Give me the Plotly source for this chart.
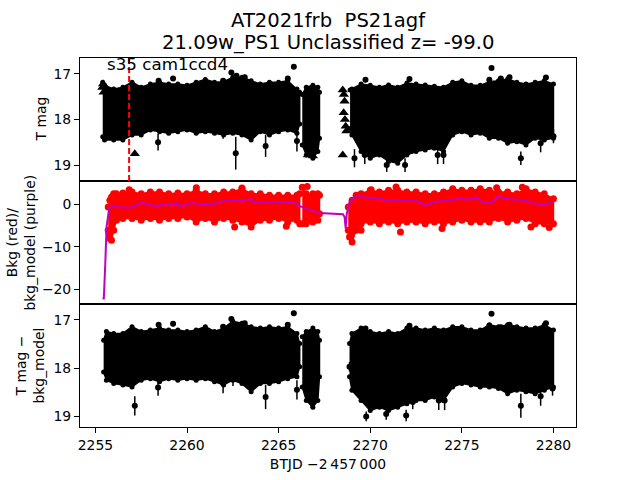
import plotly.graph_objects as go
from plotly.subplots import make_subplots

FONT = "DejaVu Sans"

# ---------------- Top panel: T mag (band envelopes) ----------------
top_a_t = [2255.4, 2255.5, 2256.0, 2256.5, 2257.0, 2257.5, 2258.0, 2258.5, 2259.0, 2259.5,
           2260.0, 2260.5, 2261.0, 2261.5, 2262.0, 2262.5, 2263.0, 2263.5, 2264.0, 2264.5,
           2265.0, 2265.5, 2266.0, 2266.15]
top_a_hi = [17.18, 17.25, 17.33, 17.29, 17.18, 17.29, 17.22, 17.18, 17.22, 17.22,
            17.25, 17.18, 17.12, 17.18, 17.17, 17.07, 17.07, 17.15, 17.22, 17.18,
            17.18, 17.15, 17.33, 17.40]
top_a_lo = [18.38, 18.45, 18.45, 18.45, 18.34, 18.34, 18.23, 18.27, 18.30, 18.27,
            18.23, 18.30, 18.27, 18.30, 18.34, 18.30, 18.34, 18.45, 18.27, 18.34,
            18.27, 18.23, 18.30, 18.10]
top_b_t = [2266.29, 2266.51, 2266.87, 2267.14, 2267.23]
top_b_hi = [17.45, 17.29, 17.25, 17.29, 17.40]
top_b_lo = [18.56, 18.78, 18.85, 18.70, 18.41]
top_c_t = [2268.9, 2269.0, 2269.5, 2270.0, 2270.5, 2271.0, 2271.5, 2272.0, 2272.5, 2273.0,
           2273.5, 2274.0, 2274.5, 2275.0, 2275.5, 2276.0, 2276.5, 2277.0, 2277.5, 2278.0,
           2278.5, 2279.0, 2279.5, 2280.0]
top_c_hi = [17.35, 17.33, 17.22, 17.25, 17.29, 17.24, 17.29, 17.20, 17.22, 17.24,
            17.27, 17.29, 17.18, 17.15, 17.25, 17.25, 17.17, 17.15, 17.11, 17.18,
            17.22, 17.18, 17.15, 17.22]
top_c_lo = [18.20, 18.34, 18.70, 18.85, 18.78, 18.92, 18.96, 18.78, 18.70, 18.67,
            18.63, 18.70, 18.34, 18.27, 18.34, 18.30, 18.41, 18.41, 18.52, 18.49,
            18.56, 18.41, 18.45, 18.41]
top_pts_t = [2258.42, 2262.66, 2264.29, 2266.0, 2262.51, 2261.97, 2258.45, 2259.24, 2261.97, 2262.42,
             2262.7, 2263.15, 2265.5, 2265.83, 2269.74, 2272.14, 2276.62, 2276.5, 2277.13, 2277.6,
             2279.59, 2269.14, 2269.7, 2270.9, 2271.9, 2272.32, 2273.68, 2274.0, 2276.5, 2278.22,
             2279.3, 2280.0]
top_pts_m = [18.50, 18.74, 18.58, 18.47, 18.15, 18.27, 17.15, 17.10, 17.15, 16.97,
             17.04, 17.07, 17.10, 16.84, 17.13, 17.11, 16.87, 17.13, 17.10, 17.07,
             17.08, 18.85, 18.78, 19.00, 19.00, 18.55, 18.78, 18.78, 18.30, 18.85,
             18.52, 18.37]
top_pts_e = [0.18, 0.36, 0.24, 0.23, 0.18, 0.15, 0.05, 0.05, 0.05, 0.05,
             0.05, 0.05, 0.05, 0.04, 0.05, 0.05, 0.04, 0.05, 0.05, 0.05,
             0.05, 0.20, 0.20, 0.15, 0.15, 0.20, 0.20, 0.20, 0.15, 0.15,
             0.20, 0.15]
lim_t = [2255.38, 2255.42, 2255.45, 2257.15, 2266.6, 2266.87, 2268.5, 2268.56, 2268.6, 2268.55,
         2268.62, 2268.66, 2268.7, 2268.5]
lim_m = [17.30, 17.22, 17.40, 18.75, 18.78, 18.80, 17.35, 17.45, 17.60, 17.85,
         18.00, 18.15, 18.25, 18.78]
peak_time = 2256.84
label_text = "s35 cam1ccd4"

# ---------------- Middle panel: background (red) and model (purple) ----------------
bkg_a_t = [2255.7, 2255.79, 2255.88, 2256.0, 2256.15, 2256.5, 2257.0, 2257.5, 2258.0, 2258.5,
           2259.0, 2259.5, 2260.0, 2260.5, 2261.0, 2261.5, 2262.0, 2262.5, 2263.0, 2263.5,
           2264.0, 2264.5, 2265.0, 2265.5, 2266.0, 2266.15]
bkg_a_hi = [-0.63, 0.94, 1.73, 2.51, 2.51, 2.67, 2.90, 2.51, 2.90, 2.90,
            2.51, 2.67, 2.51, 3.29, 2.51, 2.51, 2.90, 2.90, 3.69, 2.51,
            2.51, 2.12, 2.12, 2.12, 2.12, 2.51]
bkg_a_lo = [-6.10, -8.07, -8.47, -6.10, -3.76, -3.37, -3.37, -3.76, -3.37, -3.76,
            -3.37, -3.37, -2.98, -4.16, -3.37, -4.16, -3.37, -3.76, -4.16, -5.33,
            -3.76, -3.76, -3.37, -4.16, -3.76, -4.55]
bkg_b_t = [2266.29, 2266.5, 2266.87, 2267.14, 2267.23]
bkg_b_hi = [4.00, 2.51, 2.51, 2.51, 2.12]
bkg_b_lo = [-4.55, -4.55, -4.16, -3.76, -2.20]
bkg_c_t = [2268.8, 2268.87, 2269.01, 2269.23, 2269.5, 2270.0, 2270.5, 2271.0, 2271.5, 2272.0,
           2272.5, 2273.0, 2273.5, 2274.0, 2274.5, 2275.0, 2275.5, 2276.0, 2276.5, 2277.0,
           2277.5, 2278.0, 2278.5, 2279.0, 2279.5, 2280.0]
bkg_c_hi = [-0.63, -0.63, 0.94, 2.12, 2.51, 3.29, 2.90, 3.29, 3.29, 2.90,
            2.90, 2.51, 2.51, 2.90, 3.69, 3.29, 3.29, 3.69, 3.29, 2.90,
            2.90, 2.51, 3.69, 2.90, 2.51, 1.33]
bkg_c_lo = [-6.10, -7.69, -8.86, -6.12, -4.55, -4.16, -4.55, -4.16, -4.55, -4.16,
            -4.16, -4.55, -4.16, -4.55, -4.16, -3.76, -4.16, -4.16, -4.16, -3.37,
            -4.16, -3.76, -3.37, -4.55, -4.55, -4.55]
bkg_pts_t = [2256.84, 2260.51, 2263.0, 2266.56, 2262.6, 2265.42, 2255.75, 2270.05, 2271.41, 2271.65,
             2273.92, 2279.77, 2278.77, 2269.5, 2276.9, 2278.3]
bkg_pts_v = [3.45, 3.92, 3.84, 4.23, -5.33, -5.18, -6.90, 3.45, 4.08, -6.50,
             -5.72, -5.49, -5.33, -6.10, 3.90, 4.00]
model_t = [2255.39, 2255.46, 2255.54, 2255.61, 2255.75, 2255.88, 2256.15, 2256.52, 2256.88, 2257.24,
           2257.52, 2257.79, 2258.33, 2258.7, 2259.06, 2259.42, 2259.6, 2259.97, 2260.33, 2260.69,
           2261.06, 2261.42, 2261.78, 2262.15, 2262.51, 2262.87, 2263.24, 2263.42, 2263.6, 2263.96,
           2264.33, 2264.69, 2265.05, 2265.42, 2265.78, 2265.96, 2266.14, 2266.32, 2266.69, 2267.05,
           2267.23, 2268.51, 2268.6, 2268.66, 2268.72, 2268.87, 2269.05, 2269.32, 2269.5, 2269.96,
           2270.5, 2270.96, 2271.41, 2271.96, 2272.5, 2272.96, 2273.23, 2273.77, 2274.32, 2274.86,
           2275.41, 2275.77, 2276.13, 2276.68, 2276.95, 2277.41, 2277.95, 2278.5, 2279.04, 2279.4,
           2279.68, 2279.95]
model_v = [-22.2, -22.2, -13.96, -5.33, -1.02, -0.47, -0.63, -0.63, -0.78, -0.24,
           0.55, 0.0, -0.47, 0.0, -0.24, 0.31, -0.47, 0.0, 0.31, 0.0,
           0.16, 0.0, 0.55, 0.94, 0.78, 1.10, 0.94, 1.33, 0.55, 0.31,
           0.55, 0.55, 0.31, 0.55, 0.55, 0.16, -0.47, -0.63, -1.25, -1.80,
           -2.04, -2.35, -2.98, -5.65, -2.20, 0.55, 1.33, 2.12, 1.73, 1.57,
           1.33, 0.94, 1.10, 0.78, 0.94, -0.24, 0.16, 0.78, 0.94, 1.33,
           1.10, 1.73, 0.55, 0.55, 1.88, 1.33, 1.10, 0.78, 0.16, 0.0,
           0.16, 0.55]

# ---------------- Bottom panel: T mag - bkg_model ----------------
sub_a_t = [2255.45, 2255.6, 2256.0, 2256.5, 2257.0, 2257.5, 2258.0, 2258.5, 2259.0, 2259.5,
           2260.0, 2260.5, 2261.0, 2261.5, 2262.0, 2262.5, 2263.0, 2263.5, 2264.0, 2264.5,
           2265.0, 2265.5, 2266.0, 2266.15]
sub_a_hi = [17.42, 17.24, 17.28, 17.28, 17.14, 17.24, 17.21, 17.17, 17.21, 17.21,
            17.24, 17.21, 17.14, 17.24, 17.17, 17.03, 17.07, 17.14, 17.17, 17.14,
            17.17, 17.14, 17.28, 17.49]
sub_a_lo = [18.08, 18.25, 18.32, 18.35, 18.39, 18.25, 18.22, 18.28, 18.22, 18.25,
            18.22, 18.25, 18.22, 18.28, 18.35, 18.25, 18.32, 18.49, 18.32, 18.32,
            18.28, 18.22, 18.18, 17.97]
sub_b_t = [2266.29, 2266.51, 2266.87, 2267.14, 2267.23]
sub_b_hi = [17.35, 17.24, 17.17, 17.24, 17.42]
sub_b_lo = [18.39, 18.67, 18.81, 18.67, 18.18]
sub_c_t = [2268.87, 2269.0, 2269.5, 2270.0, 2270.5, 2271.0, 2271.5, 2272.0, 2272.5, 2273.0,
           2273.5, 2274.0, 2274.5, 2275.0, 2275.5, 2276.0, 2276.5, 2277.0, 2277.5, 2278.0,
           2278.5, 2279.0, 2279.5, 2280.0]
sub_c_hi = [17.49, 17.28, 17.17, 17.24, 17.28, 17.24, 17.28, 17.17, 17.17, 17.21,
            17.17, 17.21, 17.14, 17.14, 17.21, 17.21, 17.10, 17.14, 17.10, 17.14,
            17.17, 17.17, 17.10, 17.21]
sub_c_lo = [18.18, 18.46, 18.67, 18.88, 18.81, 18.88, 18.81, 18.74, 18.67, 18.67,
            18.60, 18.67, 18.39, 18.32, 18.35, 18.39, 18.39, 18.42, 18.53, 18.46,
            18.49, 18.53, 18.46, 18.39]
sub_pts_t = [2257.15, 2258.42, 2261.97, 2262.51, 2264.29, 2266.0, 2266.78, 2258.45, 2259.24, 2261.97,
             2262.42, 2263.15, 2265.5, 2265.83, 2269.78, 2270.87, 2271.96, 2272.32, 2273.74, 2274.06,
             2278.22, 2279.3, 2279.95, 2268.87, 2269.74, 2272.14, 2276.62, 2276.5, 2277.13, 2277.6,
             2279.59]
sub_pts_m = [18.78, 18.40, 18.32, 18.22, 18.60, 18.45, 18.60, 17.10, 17.08, 17.14,
             16.98, 17.07, 17.10, 16.86, 19.00, 18.95, 18.98, 18.70, 18.67, 18.67,
             18.78, 18.58, 18.42, 17.97, 17.18, 17.12, 16.87, 17.12, 17.15, 17.10,
             17.07]
sub_pts_e = [0.20, 0.17, 0.20, 0.15, 0.25, 0.20, 0.22, 0.05, 0.05, 0.05,
             0.05, 0.05, 0.05, 0.04, 0.10, 0.12, 0.12, 0.15, 0.20, 0.20,
             0.25, 0.20, 0.15, 0.10, 0.05, 0.05, 0.04, 0.05, 0.05, 0.05,
             0.05]

x_ticks = [2255, 2260, 2265, 2270, 2275, 2280]
mag_ticks = [17, 18, 19]
bkg_ticks = [0, -10, -20]

title_l1 = "AT2021frb\u00a0\u00a0PS21agf"
title_l2 = "21.09w_PS1 Unclassified z= -99.0"
x_title = "BTJD \u22122\u2009457\u2009000"
y_titles = ["T mag", "Bkg (red)/<br>bkg_model (purple)", "T mag \u2212<br>bkg_model"]

fig = make_subplots(rows=3, cols=1, shared_xaxes=True, vertical_spacing=0)


def band(t, hi, lo, color, row, msize):
    xs = list(t) + list(t)[::-1]
    ys = list(hi) + list(lo)[::-1]
    fig.add_trace(go.Scatter(x=xs, y=ys, fill="toself", fillcolor=color, mode="lines",
                             line=dict(color=color, width=1.5), hoverinfo="skip",
                             showlegend=False), row=row, col=1)
    fig.add_trace(go.Scatter(x=list(t) + list(t), y=list(hi) + list(lo), mode="markers",
                             marker=dict(color=color, size=msize), hoverinfo="skip",
                             showlegend=False), row=row, col=1)


def pts(t, m, e, row):
    fig.add_trace(go.Scatter(x=t, y=m, mode="markers",
                             marker=dict(color="black", size=6),
                             error_y=dict(type="data", array=e, color="black",
                                          thickness=1.5, width=0),
                             showlegend=False), row=row, col=1)


for t, hi, lo in [(top_a_t, top_a_hi, top_a_lo), (top_b_t, top_b_hi, top_b_lo),
                  (top_c_t, top_c_hi, top_c_lo)]:
    band(t, hi, lo, "black", 1, 5)
pts(top_pts_t, top_pts_m, top_pts_e, 1)
fig.add_trace(go.Scatter(x=lim_t, y=lim_m, mode="markers",
                         marker=dict(symbol="triangle-up", color="black", size=9),
                         showlegend=False), row=1, col=1)

for t, hi, lo in [(bkg_a_t, bkg_a_hi, bkg_a_lo), (bkg_b_t, bkg_b_hi, bkg_b_lo),
                  (bkg_c_t, bkg_c_hi, bkg_c_lo)]:
    band(t, hi, lo, "red", 2, 7)
fig.add_trace(go.Scatter(x=bkg_pts_t, y=bkg_pts_v, mode="markers",
                         marker=dict(color="red", size=7), showlegend=False), row=2, col=1)
fig.add_trace(go.Scatter(x=model_t, y=model_v, mode="lines",
                         line=dict(color="#bf00bf", width=2), showlegend=False), row=2, col=1)

for t, hi, lo in [(sub_a_t, sub_a_hi, sub_a_lo), (sub_b_t, sub_b_hi, sub_b_lo),
                  (sub_c_t, sub_c_hi, sub_c_lo)]:
    band(t, hi, lo, "black", 3, 5)
pts(sub_pts_t, sub_pts_m, sub_pts_e, 3)

fig.add_shape(type="line", x0=peak_time, x1=peak_time, y0=0, y1=1, xref="x", yref="y domain",
              line=dict(color="red", width=2, dash="6px,3px"))

fig.add_annotation(text=label_text, x=2255.55, xref="x", xanchor="left",
                   y=0.952, yref="y domain", yanchor="middle", showarrow=False,
                   font=dict(family=FONT, size=16.7, color="black"))

# two title lines placed at their pixel rows (plot area spans y = 58..427)
for txt, py in [(title_l1, 20), (title_l2, 42)]:
    fig.add_annotation(text=txt, x=0.5, xref="paper", xanchor="center",
                       y=(427 - py) / 369, yref="paper", yanchor="middle", showarrow=False,
                       font=dict(family=FONT, size=19.6, color="black"))

axis_common = dict(showline=True, mirror=True, linecolor="black", linewidth=1,
                   showgrid=False, zeroline=False,
                   tickfont=dict(family=FONT, size=13.9, color="black"))
for r in (1, 2, 3):
    fig.update_xaxes(range=[2254.16, 2281.23], tickvals=x_ticks,
                     ticks="outside" if r == 3 else "", ticklen=5, tickcolor="black",
                     showticklabels=(r == 3), row=r, col=1, **axis_common)
fig.update_yaxes(range=[19.35, 16.65], tickvals=mag_ticks, ticks="outside", ticklen=5,
                 tickcolor="black", row=1, col=1, **axis_common)
fig.update_yaxes(range=[-23.5, 5.5], tickvals=bkg_ticks, ticks="outside", ticklen=5,
                 tickcolor="black", row=2, col=1, **axis_common)
fig.update_yaxes(range=[19.22, 16.67], tickvals=mag_ticks, ticks="outside", ticklen=5,
                 tickcolor="black", row=3, col=1, **axis_common)

fig.update_xaxes(title=dict(text=x_title, font=dict(family=FONT, size=13.9, color="black"),
                            standoff=7), row=3, col=1)

ydom = ["y domain", "y2 domain", "y3 domain"]
ypx = [40, 20, 29]
for yt, yr, px in zip(y_titles, ydom, ypx):
    fig.add_annotation(text=yt, textangle=-90, x=(px - 80) / 496, xref="paper", xanchor="center",
                       y=0.5, yref=yr, yanchor="middle", showarrow=False,
                       font=dict(family=FONT, size=13.9, color="black"))

fig.update_layout(
    width=640, height=480,
    margin=dict(l=80, r=64, t=58, b=53),
    paper_bgcolor="white", plot_bgcolor="white",
    font=dict(family=FONT),
    showlegend=False,
)

fig.write_html("out.html", config={"displayModeBar": False},
               post_script="document.body.style.margin='0';")
